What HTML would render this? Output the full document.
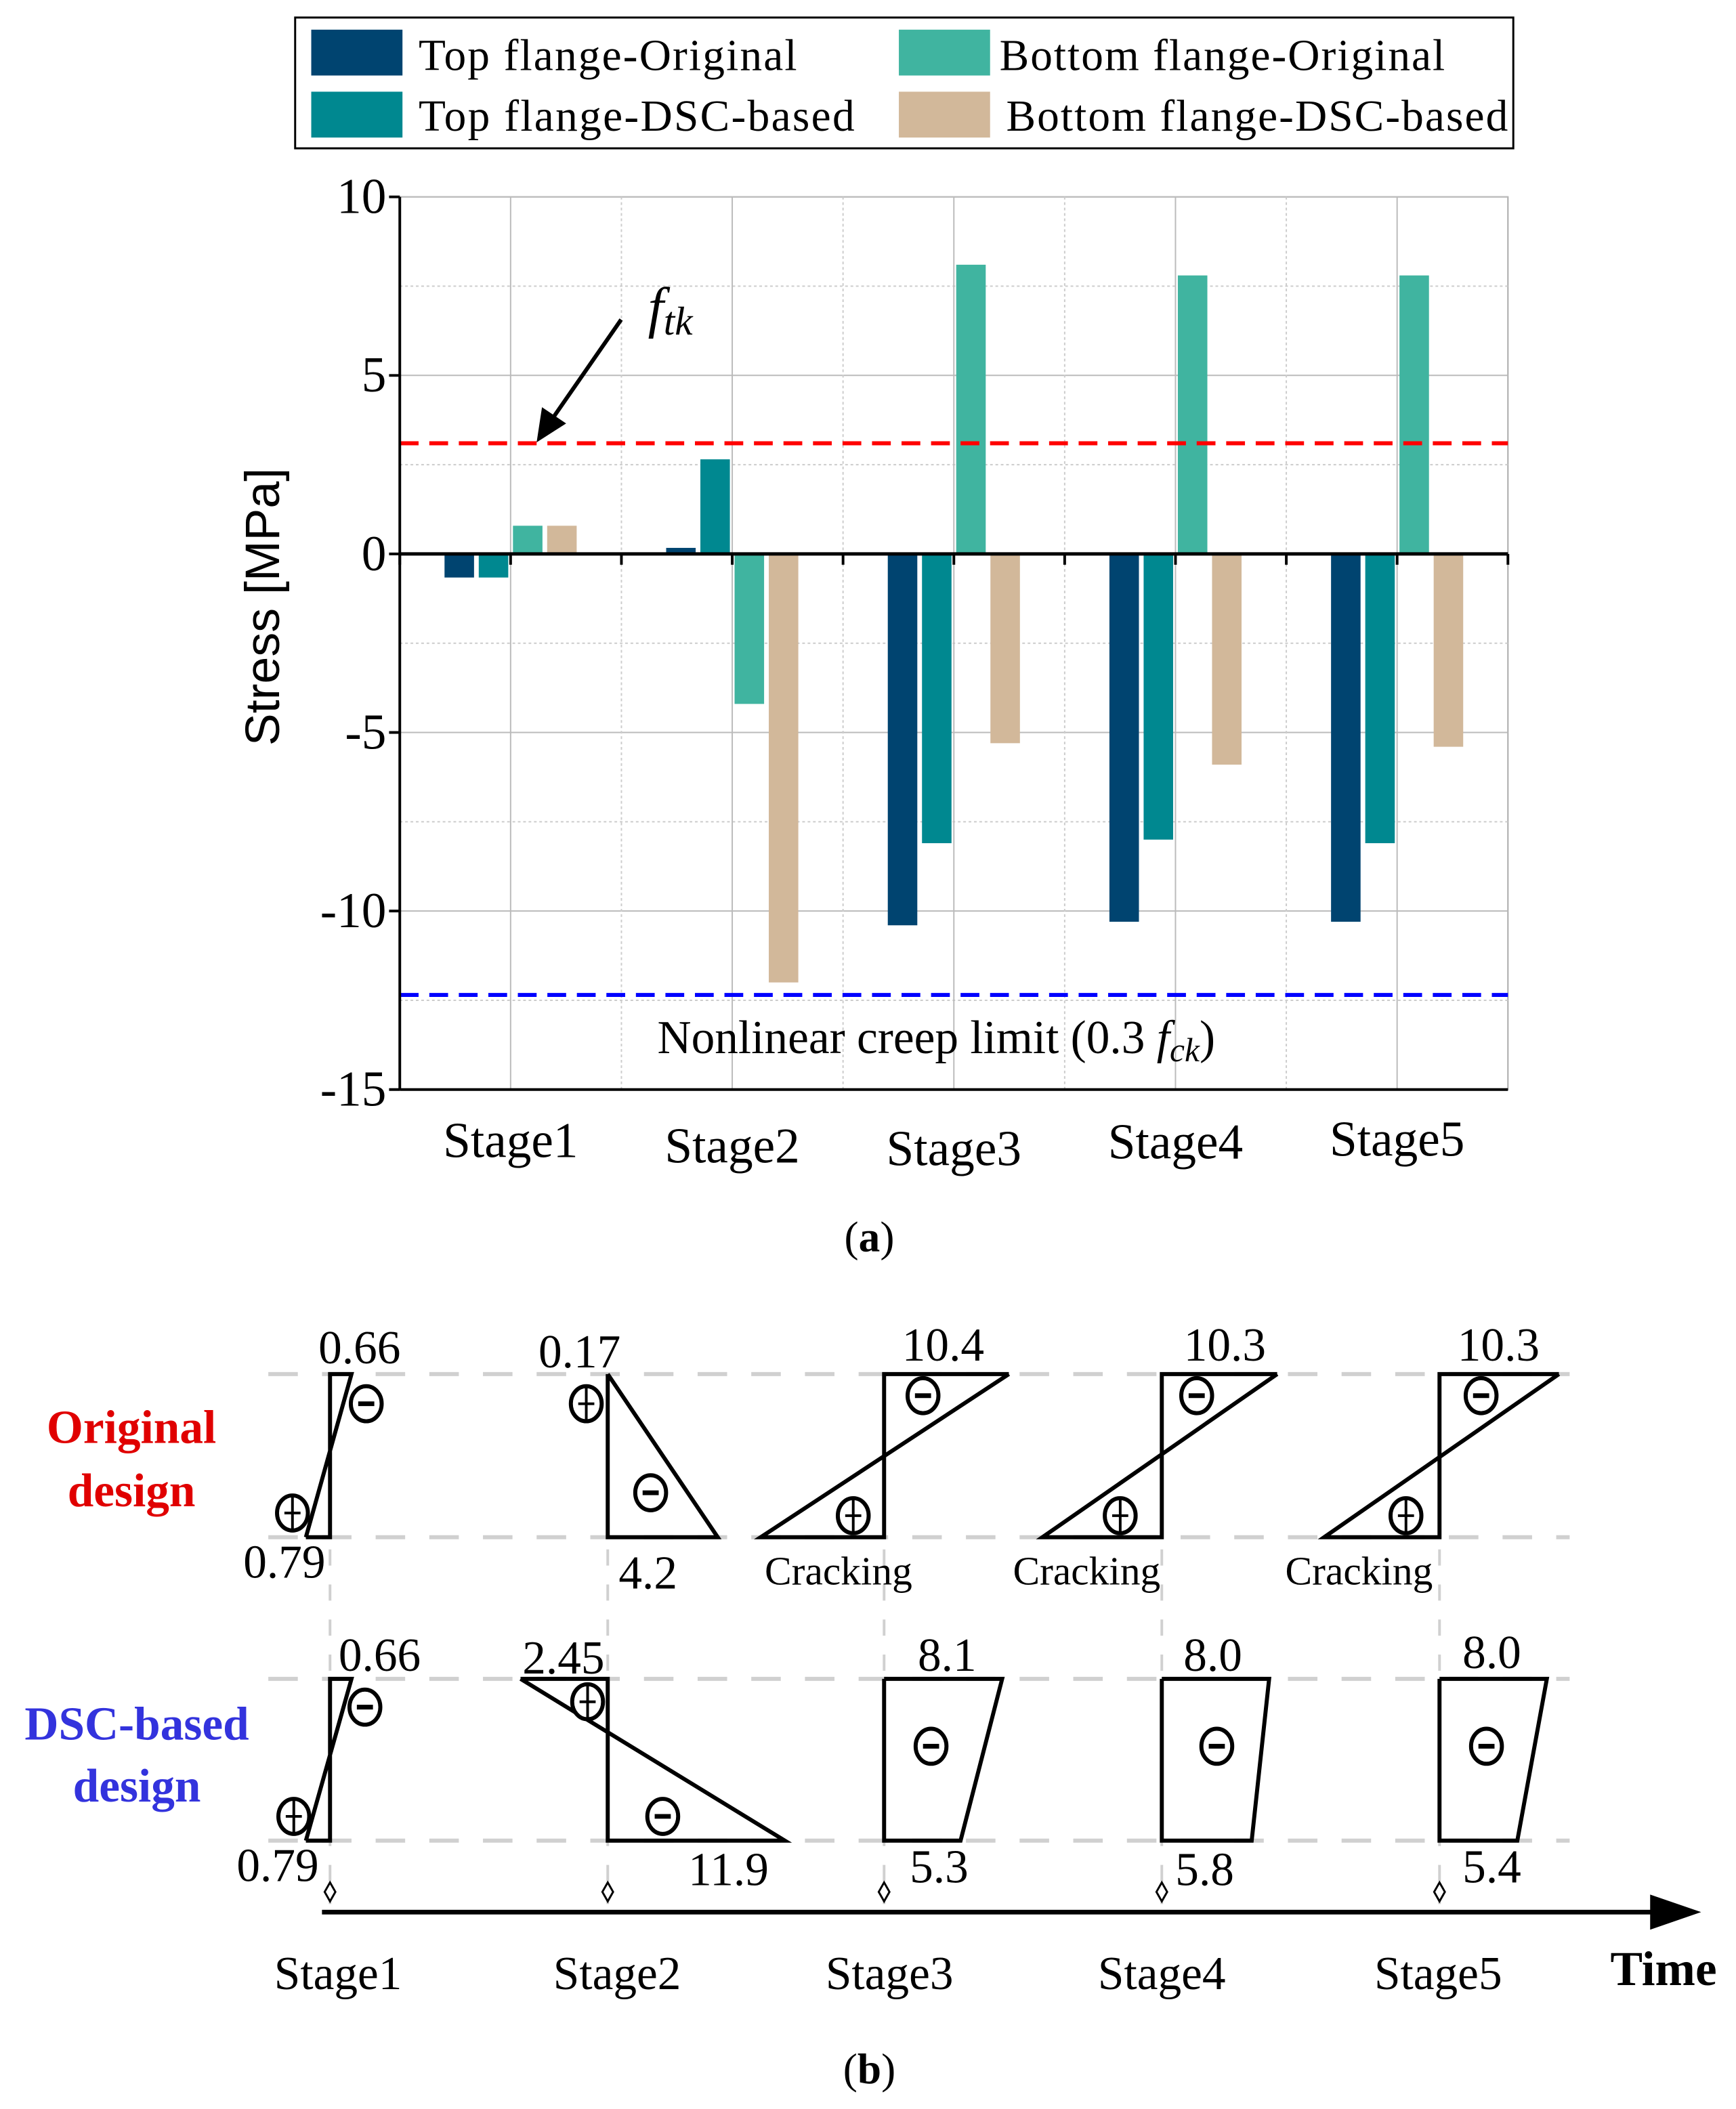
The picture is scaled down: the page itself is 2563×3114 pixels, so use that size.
<!DOCTYPE html>
<html><head><meta charset="utf-8"><style>
html,body{margin:0;padding:0;background:#fff}
svg{display:block;font-family:"Liberation Serif",serif}
</style></head><body>
<svg id="fig" width="2563" height="3114" viewBox="0 0 1294 1564" preserveAspectRatio="none" xmlns="http://www.w3.org/2000/svg">
<g id="chart"></g>
<g>
<rect x="220" y="13" width="908" height="97" fill="#fff" stroke="#000" stroke-width="1.5"/>
<rect x="232" y="22" width="68" height="34" fill="#004470"/>
<text x="312" y="52" font-size="33" textLength="282">Top flange-Original</text>
<rect x="232" y="68" width="68" height="34" fill="#008890"/>
<text x="312" y="97" font-size="33" textLength="325">Top flange-DSC-based</text>
<rect x="670" y="22" width="68" height="34" fill="#40b4a0"/>
<text x="745" y="52" font-size="33" textLength="332">Bottom flange-Original</text>
<rect x="670" y="68" width="68" height="34" fill="#d2b89a"/>
<text x="750" y="97" font-size="33" textLength="374">Bottom flange-DSC-based</text>
</g>
<text transform="translate(208,450) rotate(-90)" text-anchor="middle" font-size="36" font-family="Liberation Sans,sans-serif">Stress [MPa]</text>
<text x="483" y="242" font-size="42" font-style="italic">f<tspan font-size="30" dy="6">tk</tspan></text>
<line x1="463" y1="237" x2="410" y2="313" stroke="#000" stroke-width="3"/>
<polygon points="400,328 404,302 422,314" fill="#000"/>
<text x="490" y="781" font-size="35">Nonlinear creep limit (0.3 <tspan font-style="italic">f<tspan font-size="25" dy="6">ck</tspan></tspan><tspan dy="-6">)</tspan></text>
<text x="648" y="928" font-size="32" text-anchor="middle">(<tspan font-weight="bold">a</tspan>)</text>
<g id="diagram"></g>
</svg>
<script>
const NS="http://www.w3.org/2000/svg";
function mk(parent,tag,attrs,text){const e=document.createElementNS(NS,tag);for(const k in attrs)e.setAttribute(k,attrs[k]);if(text!==undefined)e.textContent=text;parent.appendChild(e);return e;}
// ---- chart data ----
const categories=["Stage1","Stage2","Stage3","Stage4","Stage5"];
const topOriginal=[-0.66,0.17,-10.4,-10.3,-10.3];
const topDSC=[-0.66,2.65,-8.1,-8.0,-8.1];
const bottomOriginal=[0.79,-4.2,8.1,7.8,7.8];
const bottomDSC=[0.79,-12.0,-5.3,-5.9,-5.4];
const yTicks=[10,5,0,-5,-10,-15];
const ftk=3.1;
const creepLimit=-12.35;
const labelOffsets=[0,4,6,1,-1];
// ---- axes ----
const L=298,R=1124,T=146,B=808,yMax=10,yMin=-15;
const y=v=>T+(yMax-v)/(yMax-yMin)*(B-T);
const groupW=(R-L)/categories.length;
const x=i=>L+groupW*(i+0.5);
const g=document.getElementById('chart');
mk(g,'rect',{x:L,y:T,width:R-L,height:B-T,fill:'#fff',stroke:'#aaa','stroke-width':1});
for(let v=yMax;v>=yMin;v-=2.5){const major=v%5===0;
 const ln=mk(g,'line',{x1:L,x2:R,y1:y(v),y2:y(v),stroke:major?'#bbb':'#ccc','stroke-width':1,'stroke-dasharray':major?'':'2,2'});
 }
for(let i=0;i<categories.length;i++){
 mk(g,'line',{x1:x(i),x2:x(i),y1:T,y2:B,stroke:'#bbb','stroke-width':1});
 if(i>0)mk(g,'line',{x1:L+groupW*i,x2:L+groupW*i,y1:T,y2:B,stroke:'#ccc','stroke-width':1,'stroke-dasharray':'2,2'});}
const series=[topOriginal,topDSC,bottomOriginal,bottomDSC];
const colors=['#004470','#008890','#40b4a0','#d2b89a'];
const names=['top-original','top-dsc','bottom-original','bottom-dsc'];
const bw=22,step=25.5;
series.forEach((s,k)=>s.forEach((v,i)=>{
 const cx=x(i)+(k-1.5)*step;
 const r=mk(g,'rect',{x:cx-bw/2,y:Math.min(y(v),y(0)),width:bw,height:Math.abs(y(v)-y(0)),fill:colors[k]});
 
 }));
mk(g,'line',{x1:L,x2:R,y1:y(0),y2:y(0),stroke:'#000','stroke-width':2.5});
for(let i=0;i<=categories.length*2;i++){mk(g,'line',{x1:L+groupW/2*i,x2:L+groupW/2*i,y1:y(0),y2:y(0)+8,stroke:'#000','stroke-width':2});}
const fl=mk(g,'line',{x1:L,x2:R,y1:y(ftk),y2:y(ftk),stroke:'#f00','stroke-width':3,'stroke-dasharray':'14,8'});

const cl=mk(g,'line',{x1:L,x2:R,y1:y(creepLimit),y2:y(creepLimit),stroke:'#00f','stroke-width':3,'stroke-dasharray':'14,8'});

mk(g,'line',{x1:L,x2:L,y1:T,y2:B,stroke:'#000','stroke-width':2});
mk(g,'line',{x1:L,x2:R,y1:B,y2:B,stroke:'#000','stroke-width':2});
yTicks.forEach(v=>{mk(g,'line',{x1:L-8,x2:L,y1:y(v),y2:y(v),stroke:'#000','stroke-width':2});
 const t=mk(g,'text',{x:L-10,y:y(v)+12,'text-anchor':'end','font-size':37},String(v));
 });
categories.forEach((c,i)=>{const t=mk(g,'text',{x:x(i),y:858+labelOffsets[i],'text-anchor':'middle','font-size':37},c);
 });
// ---- diagram (b) ----
const d=document.getElementById('diagram');
const stX=[246,453,659,866,1073];
[1019,1140,1245,1365].forEach(yy=>mk(d,'line',{x1:200,x2:1170,y1:yy,y2:yy,stroke:'#d0d0d0','stroke-width':3,'stroke-dasharray':'22,18'}));
stX.forEach(xx=>mk(d,'line',{x1:xx,x2:xx,y1:1019,y2:1412,stroke:'#d0d0d0','stroke-width':2,'stroke-dasharray':'12,14'}));
const P=(pts)=>mk(d,'polyline',{points:pts,fill:'none',stroke:'#000','stroke-width':3,'stroke-linejoin':'miter'});
P("228,1140 246,1140 246,1019 262,1019 228,1140");
P("453,1019 453,1140 535,1140 453,1019");
P("752,1019 659,1019 659,1140 567,1140 752,1019");
P("952,1019 866,1019 866,1140 777,1140 952,1019");
P("1162,1019 1073,1019 1073,1140 987,1140 1162,1019");
P("228,1365 246,1365 246,1245 262,1245 228,1365");
P("388,1245 453,1245 453,1365 585,1365 388,1245");
P("659,1245 747,1245 716,1365 659,1365 659,1245");
P("866,1245 946,1245 933,1365 866,1365 866,1245");
P("1073,1245 1153,1245 1131,1365 1073,1365 1073,1245");
function sign(cx,cy,plus){mk(d,'ellipse',{cx:cx,cy:cy,rx:11.5,ry:13,fill:'#fff',stroke:'#000','stroke-width':3});
 mk(d,'line',{x1:cx-6,x2:cx+6,y1:cy,y2:cy,stroke:'#000','stroke-width':plus?2:3.5});
 if(plus)mk(d,'line',{x1:cx,x2:cx,y1:cy-12,y2:cy+12,stroke:'#000','stroke-width':2});}
sign(273,1041,0);sign(218,1122,1);sign(437,1041,1);sign(485,1107,0);
sign(688,1035,0);sign(636,1124,1);sign(892,1035,0);sign(835,1124,1);sign(1104,1035,0);sign(1048,1124,1);
sign(272,1266,0);sign(219,1347,1);sign(438,1262,1);sign(494,1347,0);
sign(694,1295,0);sign(907,1295,0);sign(1108,1295,0);
const labs=[["0.66",268,1011],["0.79",212,1170],["0.17",432,1014],["4.2",483,1178],["10.4",703,1009],["10.3",913,1009],["10.3",1117,1009],
["Cracking",625,1175,30],["Cracking",810,1175,30],["Cracking",1013,1175,30],
["0.66",283,1239],["0.79",207,1395],["2.45",420,1241],["11.9",543,1398],["8.1",706,1239],["5.3",700,1396],["8.0",904,1239],["5.8",898,1398],["8.0",1112,1237],["5.4",1112,1396]];
labs.forEach(a=>{const t=mk(d,'text',{x:a[1],y:a[2],'text-anchor':'middle','font-size':a[3]||35},a[0]);
 });
mk(d,'line',{x1:240,x2:1235,y1:1418,y2:1418,stroke:'#000','stroke-width':3.5});
mk(d,'polygon',{points:'1230,1405 1268,1418 1230,1431',fill:'#000'});
stX.forEach(xx=>mk(d,'polygon',{points:`${xx},1396 ${xx+4},1403 ${xx},1410 ${xx-4},1403`,fill:'#fff',stroke:'#000','stroke-width':1.5}));
[[252,"Stage1"],[460,"Stage2"],[663,"Stage3"],[866,"Stage4"],[1072,"Stage5"]].forEach(a=>{
 const t=mk(d,'text',{x:a[0],y:1475,'text-anchor':'middle','font-size':35},a[1]);
 });
const tm=mk(d,'text',{x:1240,y:1472,'text-anchor':'middle','font-size':36,'font-weight':'bold'},"Time");

const o1=mk(d,'text',{x:98,y:1070,'text-anchor':'middle','font-size':35,'font-weight':'bold',fill:'#e00000'},"Original");

mk(d,'text',{x:98,y:1117,'text-anchor':'middle','font-size':35,'font-weight':'bold',fill:'#e00000'},"design");
const o2=mk(d,'text',{x:102,y:1290,'text-anchor':'middle','font-size':35,'font-weight':'bold',fill:'#3333dd'},"DSC-based");

mk(d,'text',{x:102,y:1336,'text-anchor':'middle','font-size':35,'font-weight':'bold',fill:'#3333dd'},"design");
const pb=mk(d,'text',{x:648,y:1545,'text-anchor':'middle','font-size':32},"(");

pb.innerHTML='(<tspan font-weight="bold">b</tspan>)';
</script>
</body></html>
